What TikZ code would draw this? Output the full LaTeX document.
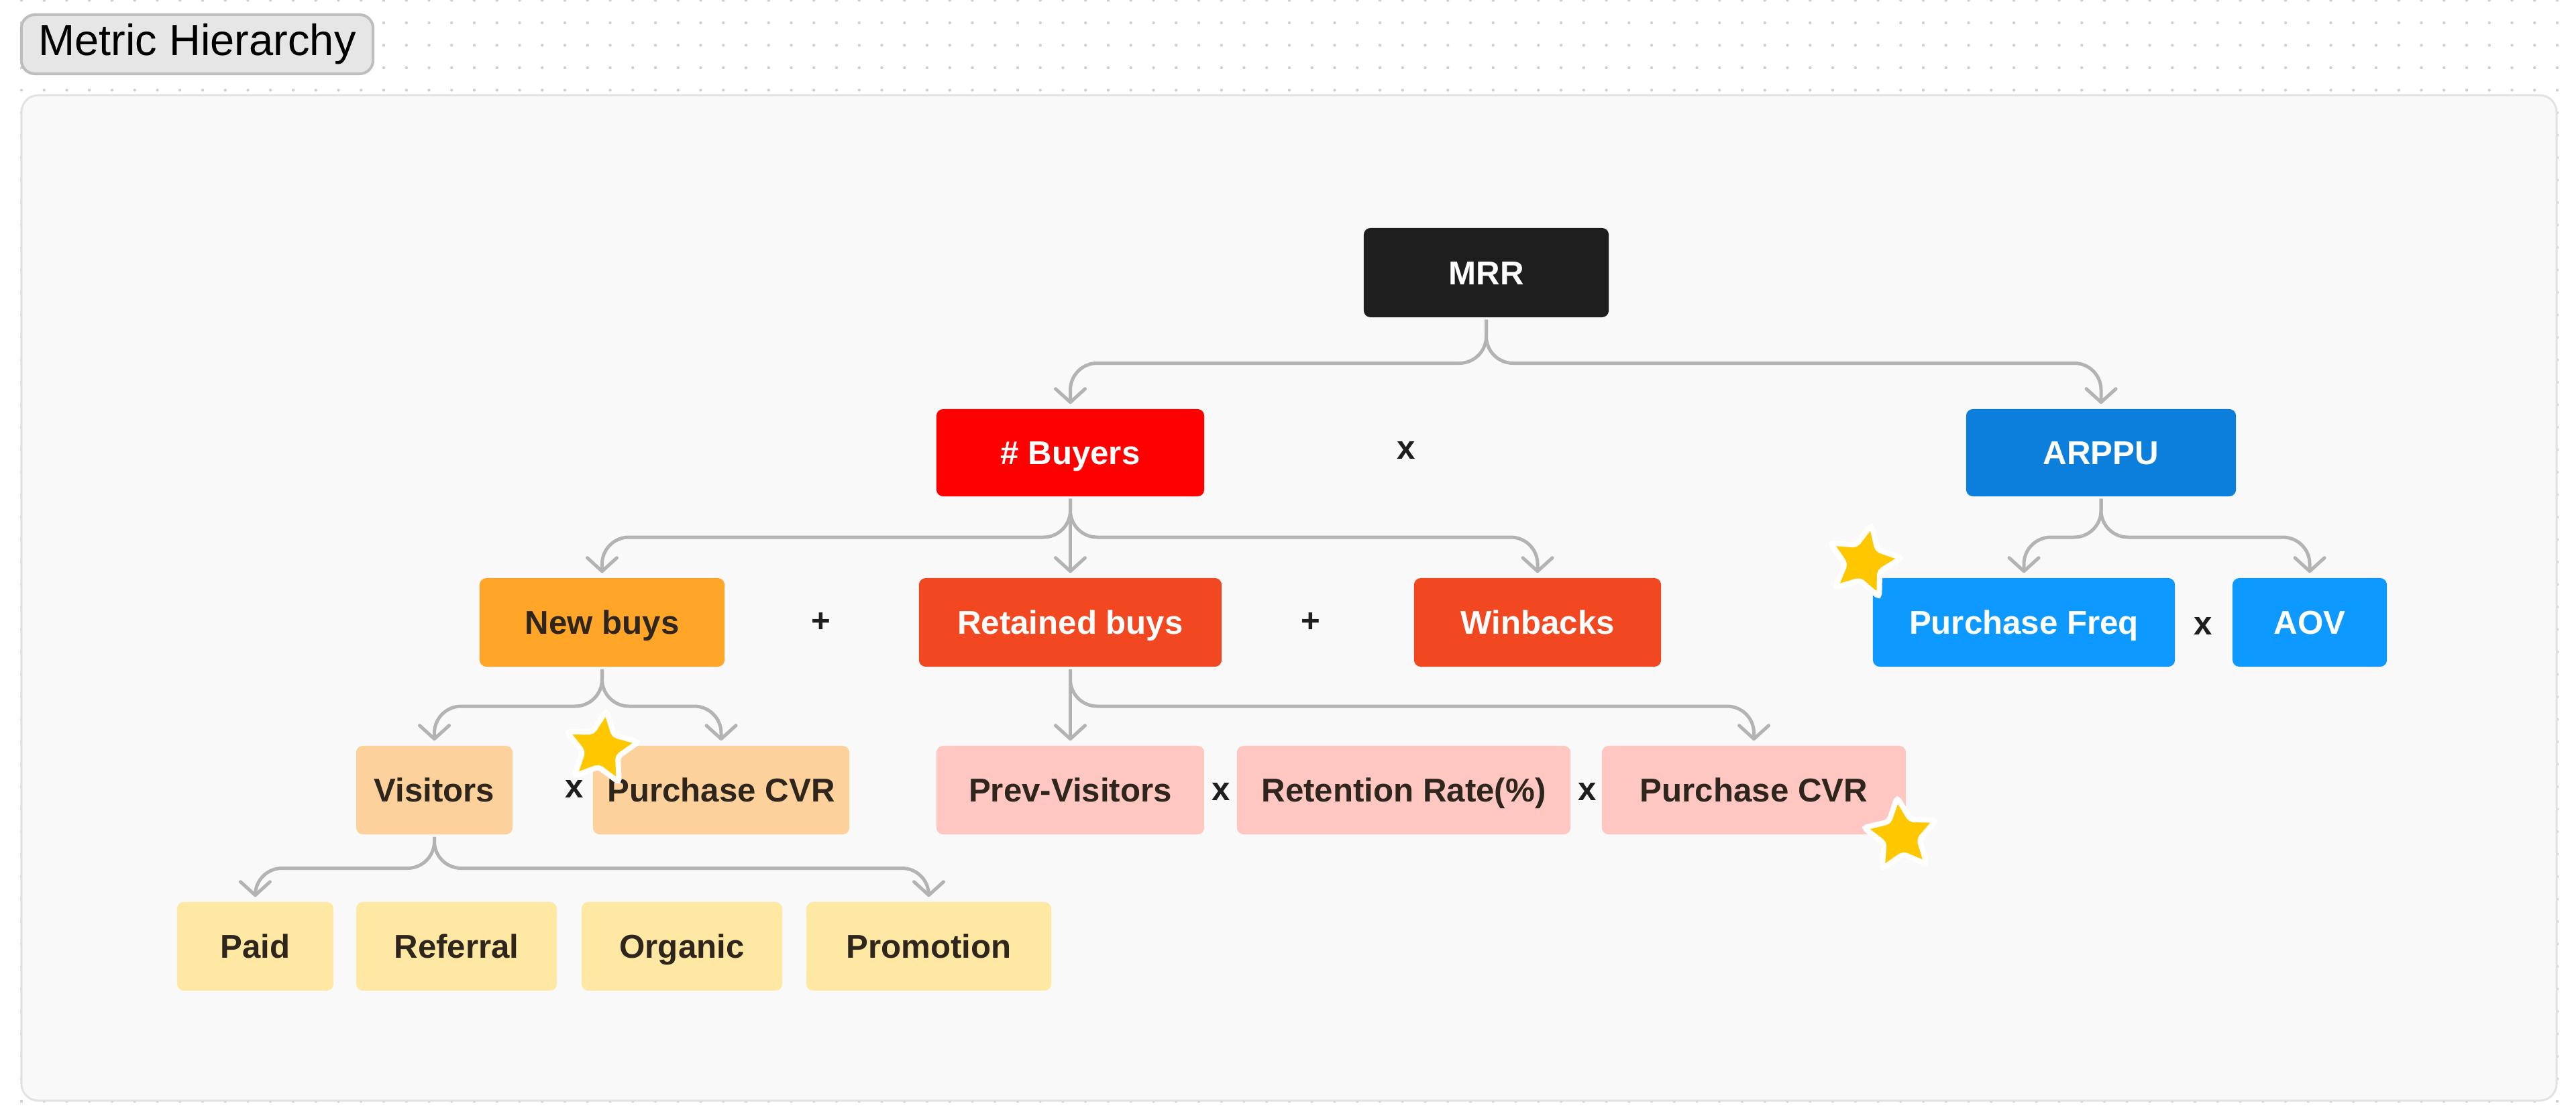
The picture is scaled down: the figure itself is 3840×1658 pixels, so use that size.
\documentclass[tikz,border=0pt]{standalone}
\usepackage{fontspec}
\setmainfont{Liberation Sans}
\usetikzlibrary{arrows.meta,shapes.geometric,shadows,calc}
\definecolor{dotc}{HTML}{CFCFCF}
\definecolor{panelfill}{HTML}{F9F9F9}
\definecolor{panelline}{HTML}{E2E2E2}
\definecolor{titlefill}{HTML}{E6E6E6}
\definecolor{titleline}{HTML}{BDBDBD}
\definecolor{conncol}{HTML}{B3B3B3}
\definecolor{cMRR}{HTML}{1E1E1E}
\definecolor{cRed}{HTML}{FF0000}
\definecolor{cDBlue}{HTML}{0B7FDB}
\definecolor{cOrange}{HTML}{FFA629}
\definecolor{cRedOr}{HTML}{F24822}
\definecolor{cLBlue}{HTML}{0D99FF}
\definecolor{cPeach}{HTML}{FCD19C}
\definecolor{cPink}{HTML}{FFC7C2}
\definecolor{cYellow}{HTML}{FFE8A3}
\definecolor{darktext}{HTML}{2E261C}
\definecolor{starY}{HTML}{FFC700}
\newcommand\nodefont{\bfseries\fontsize{14}{16}\selectfont}
\tikzset{
  box/.style={rounded corners=0.1cm, inner sep=0pt, font=\nodefont, align=center,
    text height=10pt, text depth=0pt},
  darkbox/.style={box, text=darktext},
  lightbox/.style={box, text=white},
  opsign/.style={font=\nodefont, text=cMRR, inner sep=0pt},
  conn/.style={draw=conncol, line width=0.05cm, rounded corners=0.4cm,
    -{Straight Barb[length=0.2cm,width=0.44cm,round]},
    shorten >=0.07cm, shorten <=0.03cm},
  starmark/.style={star, star points=5, star point ratio=2.05, minimum size=1.14cm,
    inner sep=0pt, fill=starY, draw=white, line width=0.08cm, rounded corners=0.05cm,
    drop shadow={opacity=0.18, shadow xshift=0pt, shadow yshift=-0.03cm}}
}
\begin{document}
\begin{tikzpicture}[x=0.01cm,y=-0.01cm]
\useasboundingbox (0,0) rectangle (3840,1658);
\fill[white] (0,0) rectangle (3840,1658);
% dot grid (visible parts)
\foreach \i in {0,...,112}{
  \foreach \j in {45,...,49}{
    \fill[dotc] ({3812-\i*33.75},{1642-\j*33.5}) circle (0.022cm);
  }
  \fill[dotc] ({3812-\i*33.75},1642) circle (0.022cm);
}
\foreach \j in {0,...,44}{
  \fill[dotc] (32,{1642-\j*33.5}) circle (0.022cm);
  \fill[dotc] (3812,{1642-\j*33.5}) circle (0.022cm);
}
% panel
\draw[fill=panelfill, draw=panelline, line width=0.03cm, rounded corners=0.25cm] (32,142) rectangle (3811,1641);
% title
\node[fill=titlefill, draw=titleline, line width=0.04cm, rounded corners=0.2cm,
  minimum width=5.24cm, minimum height=0.88cm, inner sep=0pt,
  font=\fontsize{18.5}{21}\selectfont] (title) at (294,66) {Metric Hierarchy};

% level 0
\node[lightbox, fill=cMRR, minimum width=3.65cm, minimum height=1.33cm] (mrr) at (2215.5,406.5) {MRR};
% level 1
\node[lightbox, fill=cRed, minimum width=3.99cm, minimum height=1.30cm] (buyers) at (1595.5,675) {\# Buyers};
\node[lightbox, fill=cDBlue, minimum width=4.02cm, minimum height=1.30cm] (arppu) at (3132,675) {ARPPU};
\node[opsign] (op1) at (2096,671) {x};
% level 2
\node[darkbox, fill=cOrange, minimum width=3.65cm, minimum height=1.32cm] (newbuys) at (897.5,928) {New buys};
\node[lightbox, fill=cRedOr, minimum width=4.51cm, minimum height=1.32cm] (retained) at (1595.5,928) {Retained buys};
\node[lightbox, fill=cRedOr, minimum width=3.68cm, minimum height=1.32cm] (winbacks) at (2292,928) {Winbacks};
\node[lightbox, fill=cLBlue, minimum width=4.50cm, minimum height=1.32cm] (pfreq) at (3017,928) {Purchase Freq};
\node[lightbox, fill=cLBlue, minimum width=2.30cm, minimum height=1.32cm] (aov) at (3443,928) {AOV};
\node[opsign] (op2) at (1224,928) {+};
\node[opsign] (op3) at (1954,928) {+};
\node[opsign] (op4) at (3284,933) {x};
% level 3
\node[darkbox, fill=cPeach, minimum width=2.33cm, minimum height=1.32cm] (visitors) at (647.5,1178) {Visitors};
\node[darkbox, fill=cPeach, minimum width=3.82cm, minimum height=1.32cm] (pcvra) at (1075,1178) {Purchase CVR};
\node[darkbox, fill=cPink, minimum width=3.99cm, minimum height=1.32cm] (prevv) at (1595.5,1178) {Prev-Visitors};
\node[darkbox, fill=cPink, minimum width=4.97cm, minimum height=1.32cm] (retrate) at (2092.5,1178) {Retention Rate(\%)};
\node[darkbox, fill=cPink, minimum width=4.53cm, minimum height=1.32cm] (pcvrb) at (2614.5,1178) {Purchase CVR};
\node[opsign] (op5) at (856,1176) {x};
\node[opsign] (op6) at (1820,1180) {x};
\node[opsign] (op7) at (2366,1180) {x};
% level 4
\node[darkbox, fill=cYellow, minimum width=2.33cm, minimum height=1.32cm] (paid) at (380.5,1411) {Paid};
\node[darkbox, fill=cYellow, minimum width=2.99cm, minimum height=1.32cm] (referral) at (680.5,1411) {Referral};
\node[darkbox, fill=cYellow, minimum width=2.99cm, minimum height=1.32cm] (organic) at (1016.5,1411) {Organic};
\node[darkbox, fill=cYellow, minimum width=3.65cm, minimum height=1.32cm] (promo) at (1384.5,1411) {Promotion};

% branch levels
\path (mrr.south) -- (buyers.north) coordinate[pos=0.5] (mA);
\path (buyers.south) -- (retained.north) coordinate[pos=0.5] (mB);
\path (arppu.south) -- (pfreq.north) coordinate[pos=0.5] (mC);
\path (newbuys.south) -- (visitors.north) coordinate[pos=0.5] (mD);
\path (retained.south) -- (pcvrb.north) coordinate[pos=0.5] (mE);
\path (visitors.south) -- (paid.north) coordinate[pos=0.5] (mF);

% connectors
\draw[conn] (mrr.south) -- (mrr.south |- mA) -- (buyers.north |- mA) -- (buyers.north);
\draw[conn] (mrr.south) -- (mrr.south |- mA) -- (arppu.north |- mA) -- (arppu.north);
\draw[conn] (buyers.south) -- (buyers.south |- mB) -- (newbuys.north |- mB) -- (newbuys.north);
\draw[conn] (buyers.south) -- (retained.north);
\draw[conn] (buyers.south) -- (buyers.south |- mB) -- (winbacks.north |- mB) -- (winbacks.north);
\draw[conn] (arppu.south) -- (arppu.south |- mC) -- (pfreq.north |- mC) -- (pfreq.north);
\draw[conn] (arppu.south) -- (arppu.south |- mC) -- (aov.north |- mC) -- (aov.north);
\draw[conn] (newbuys.south) -- (newbuys.south |- mD) -- (visitors.north |- mD) -- (visitors.north);
\draw[conn] (newbuys.south) -- (newbuys.south |- mD) -- (pcvra.north |- mD) -- (pcvra.north);
\draw[conn] (retained.south) -- (prevv.north);
\draw[conn] (retained.south) -- (retained.south |- mE) -- (pcvrb.north |- mE) -- (pcvrb.north);
\draw[conn] (visitors.south) -- (visitors.south |- mF) -- (paid.north |- mF) -- (paid.north);
\draw[conn] (visitors.south) -- (visitors.south |- mF) -- (promo.north |- mF) -- (promo.north);

% stars
\node[starmark, rotate=-8] (star1) at (896,1116) {};
\node[starmark, rotate=6] (star2) at (2834,1246) {};
\node[starmark, rotate=-12] (star3) at (2778,838) {};
\end{tikzpicture}
\end{document}
